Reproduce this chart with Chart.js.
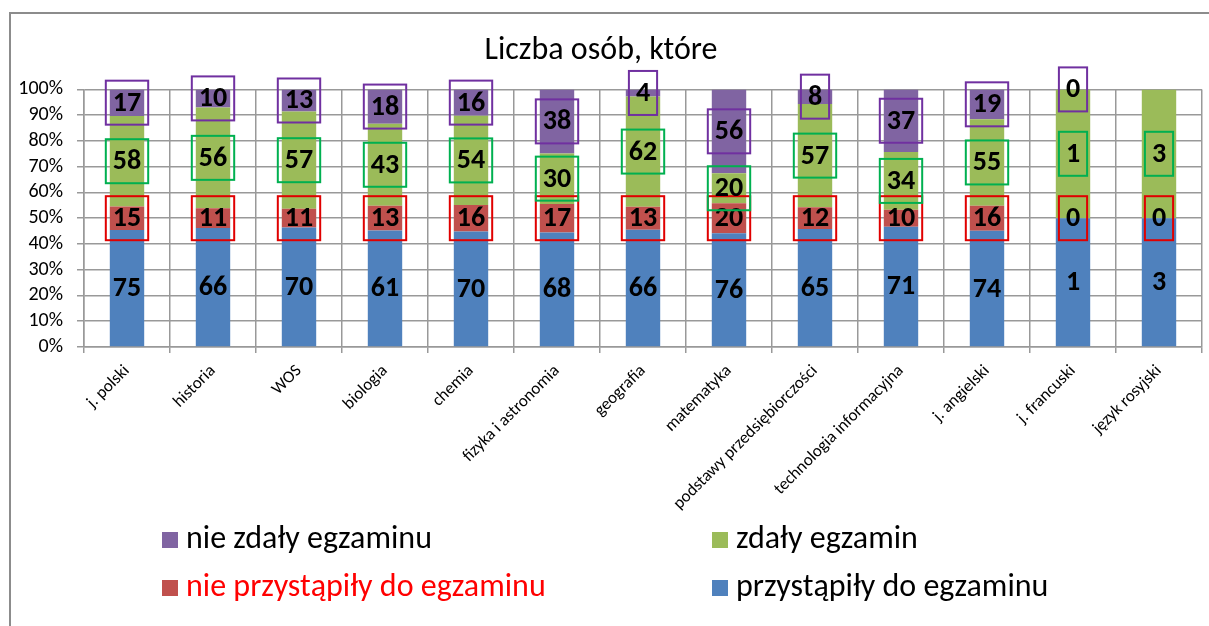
<!DOCTYPE html>
<html>
<head>
<meta charset="utf-8">
<script src="https://cdn.jsdelivr.net/npm/chart.js@4"></script>
<style>
  body { margin: 0; background: #fff; overflow: hidden; }
  #frame { position: absolute; left: 9px; top: 12px; width: 1400px; height: 800px;
           border-top: 2px solid #8c8c8c; border-left: 2px solid #8c8c8c; }
  #wrap { position: absolute; left: 0; top: 0; width: 1209px; height: 626px; }
</style>
</head>
<body>
<div id="frame"></div>
<div id="wrap"><canvas id="examChart"></canvas></div>
<script>
const categories = ["j. polski", "historia", "WOS", "biologia", "chemia", "fizyka i astronomia",
  "geografia", "matematyka", "podstawy przedsiębiorczości", "technologia informacyjna",
  "j. angielski", "j. francuski", "język rosyjski"];

// liczby osób (wartości etykiet)
const przystapily    = [75, 66, 70, 61, 70, 68, 66, 76, 65, 71, 74, 1, 3];
const nieprzystapily = [15, 11, 11, 13, 16, 17, 13, 20, 12, 10, 16, 0, 0];
const zdaly          = [58, 56, 57, 43, 54, 30, 62, 20, 57, 34, 55, 1, 3];
const niezdaly       = [17, 10, 13, 18, 16, 38, 4, 56, 8, 37, 19, 0, null];

const yTicks = [0, 10, 20, 30, 40, 50, 60, 70, 80, 90, 100];

const FONT = "Carlito, Lato, sans-serif";

// 100% stacked: each column sums to 100
const series = [przystapily, nieprzystapily, zdaly, niezdaly];
const totals = categories.map((c, i) => series.reduce((s, arr) => s + (arr[i] || 0), 0));
function toPct(arr) {
  return arr.map((v, i) => v === null ? null : v / totals[i] * 100);
}

const datasets = [
  { label: "przystąpiły do egzaminu", counts: przystapily, data: toPct(przystapily),
    backgroundColor: "#4F81BD", boxColor: null, legendColor: "#000" },
  { label: "nie przystąpiły do egzaminu", counts: nieprzystapily, data: toPct(nieprzystapily),
    backgroundColor: "#C0504D", boxColor: "#E00000", legendColor: "#FF0000" },
  { label: "zdały egzamin", counts: zdaly, data: toPct(zdaly),
    backgroundColor: "#9BBB59", boxColor: "#00B050", legendColor: "#000" },
  { label: "nie zdały egzaminu", counts: niezdaly, data: toPct(niezdaly),
    backgroundColor: "#8064A2", boxColor: "#7030A0", legendColor: "#000" }
];

// data labels with coloured frames
const boxLabels = {
  id: "boxLabels",
  afterDatasetsDraw(chart) {
    const ctx = chart.ctx;
    ctx.save();
    ctx.font = "bold 28px " + FONT;
    ctx.textAlign = "center";
    ctx.textBaseline = "middle";
    chart.data.datasets.forEach((ds, di) => {
      const meta = chart.getDatasetMeta(di);
      meta.data.forEach((bar, i) => {
        const v = ds.counts[i];
        if (v === null || v === undefined) return;
        const x = bar.x;
        const y = (bar.y + bar.base) / 2;
        const txt = String(v);
        if (ds.boxColor) {
          const w = ctx.measureText(txt).width + 14;
          const h = 44;
          ctx.strokeStyle = ds.boxColor;
          ctx.lineWidth = 2;
          ctx.strokeRect(x - w / 2, y - h / 2, w, h);
        }
        ctx.fillStyle = "#000";
        ctx.fillText(txt, x, y + 1);
      });
    });
    ctx.restore();
  }
};

// two-column legend like in Excel
const legendOrder = [3, 2, 1, 0];
const legendGrid = {
  id: "legendGrid",
  afterDraw(chart) {
    const ctx = chart.ctx;
    const colX = [162, 712];
    const rowY = [540, 588];
    ctx.save();
    ctx.font = "32px " + FONT;
    ctx.textBaseline = "middle";
    ctx.textAlign = "left";
    legendOrder.forEach((di, k) => {
      const ds = chart.data.datasets[di];
      const x = colX[k % 2];
      const y = rowY[Math.floor(k / 2)];
      ctx.fillStyle = ds.backgroundColor;
      ctx.fillRect(x, y - 8, 16, 16);
      ctx.fillStyle = ds.legendColor;
      ctx.fillText(ds.label, x + 24, y);
    });
    ctx.restore();
  }
};

const ctx = document.getElementById("examChart").getContext("2d");
const chart = new Chart(ctx, {
  type: "bar",
  data: { labels: categories, datasets: datasets },
  plugins: [boxLabels, legendGrid],
  options: {
    responsive: true,
    maintainAspectRatio: false,
    animation: false,
    layout: { padding: { left: 0, right: 7, top: 0, bottom: 99 } },
    datasets: { bar: { barPercentage: 0.4, categoryPercentage: 1 } },
    plugins: {
      legend: { display: false },
      tooltip: { enabled: false },
      title: {
        display: true,
        text: "Liczba osób, które",
        color: "#000",
        font: { family: FONT, size: 32, weight: "normal" },
        padding: { top: 32, bottom: 19 }
      }
    },
    scales: {
      x: {
        stacked: true,
        afterFit(scale) { scale.height = 180; },
        grid: { color: "#999", lineWidth: 1.5, tickLength: 6, offset: true },
        border: { color: "#999", width: 1.5 },
        ticks: {
          color: "#000",
          font: { family: FONT, size: 17 },
          minRotation: 45, maxRotation: 45,
          autoSkip: false,
          labelOffset: 0,
          padding: 8
        }
      },
      y: {
        stacked: true,
        min: 0, max: 100,
        afterFit(scale) { scale.width = 84; },
        afterBuildTicks(scale) { scale.ticks = yTicks.map(v => ({ value: v })); },
        grid: { color: "#999", lineWidth: 1.5, tickLength: 7 },
        border: { color: "#999", width: 1.5 },
        ticks: {
          color: "#000",
          font: { family: FONT, size: 20 },
          autoSkip: false,
          padding: 14,
          callback: v => v + "%"
        }
      }
    }
  }
});
</script>
</body>
</html>
